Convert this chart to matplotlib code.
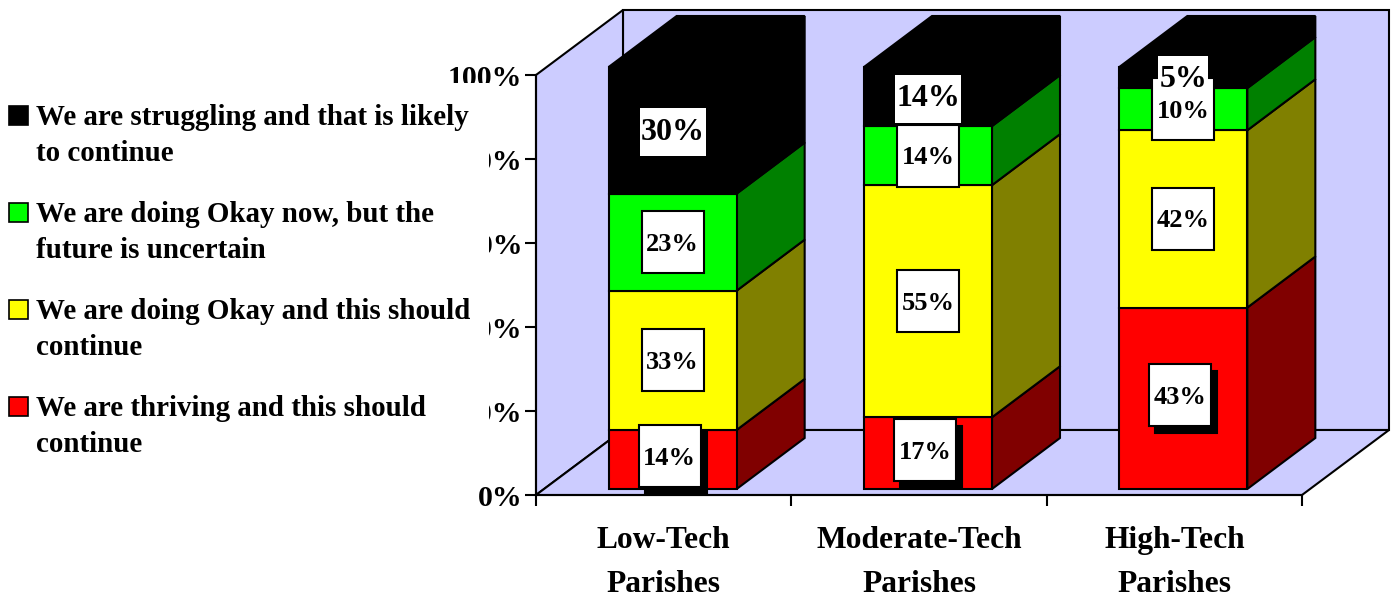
import numpy as np
import matplotlib
matplotlib.use("Agg")
import matplotlib.pyplot as plt
from matplotlib.patches import Polygon, Rectangle

plt.rcParams['font.family'] = ['Liberation Serif', 'DejaVu Serif']
plt.rcParams['font.weight'] = 'bold'

categories = ["Low-Tech\nParishes", "Moderate-Tech\nParishes", "High-Tech\nParishes"]
thriving = [14, 17, 43]
okay_continue = [33, 55, 42]
okay_uncertain = [23, 14, 10]
struggling = [30, 14, 5]
y_ticks = [0, 20, 40, 60, 80, 100]

series = [thriving, okay_continue, okay_uncertain, struggling]
front_colors = ["#FF0000", "#FFFF00", "#00FF00", "#000000"]
side_colors = ["#800000", "#808000", "#008000", "#000000"]
legend_labels = ["We are struggling and that is likely\nto continue",
                 "We are doing Okay now, but the\nfuture is uncertain",
                 "We are doing Okay and this should\ncontinue",
                 "We are thriving and this should\ncontinue"]
legend_colors = ["#000000", "#00FF00", "#FFFF00", "#FF0000"]

W, H = 1395, 596
fig = plt.figure(figsize=(W / 100, H / 100), dpi=100)
ax = fig.add_axes([536 / W, (H - 495) / H, 766 / W, 420 / H])
ax.set_xlim(0, 3)
ax.set_ylim(0, 100)
ax.patch.set_visible(False)

# one pixel in data units
px = 3 / 766
py = 100 / 420
LW = 1.5

# walls and floor of the box
wall_dx, wall_dy = 87 * px, 65 * py
wall = dict(facecolor="#CCCCFF", edgecolor="black", lw=LW, clip_on=False, zorder=1, joinstyle="miter")
ax.add_patch(Polygon([(wall_dx, wall_dy), (3 + wall_dx, wall_dy), (3 + wall_dx, 100 + wall_dy), (wall_dx, 100 + wall_dy)], **wall))
ax.add_patch(Polygon([(0, 0), (wall_dx, wall_dy), (wall_dx, 100 + wall_dy), (0, 100)], **wall))
ax.add_patch(Polygon([(0, 0), (3, 0), (3 + wall_dx, wall_dy), (wall_dx, wall_dy)], **wall))

# stacked bars, slightly taller than the axis scale as in the original
bar_w = 128 * px
bar_dx, bar_dy = 68 * px, 51 * py
off_x, off_y = 9 * px, 6 * py
scale = 422 / 420
bar = dict(edgecolor="black", lw=LW, clip_on=False, zorder=3, joinstyle="miter")
for i in range(len(categories)):
    x0 = i + 0.5 + off_x - bar_w / 2
    x1 = x0 + bar_w
    base = off_y
    for s, vals in enumerate(series):
        top = base + vals[i] * scale
        ax.add_patch(Polygon([(x1, base), (x1 + bar_dx, base + bar_dy), (x1 + bar_dx, top + bar_dy), (x1, top)],
                             facecolor=side_colors[s], **bar))
        ax.add_patch(Rectangle((x0, base), bar_w, top - base, facecolor=front_colors[s], **bar))
        base = top
    ax.add_patch(Polygon([(x0, base), (x0 + bar_dx, base + bar_dy), (x1 + bar_dx, base + bar_dy), (x1, base)],
                         facecolor="#000000", **bar))

# value labels
box_w, box_h = 62 * px, 62 * py
shadowed = [(0, 0), (1, 0), (2, 0)]
renderer = fig.canvas.get_renderer()
for i in range(len(categories)):
    cx = i + 0.5 + off_x
    base = off_y
    for s, vals in enumerate(series):
        cy = base + vals[i] * scale / 2
        base += vals[i] * scale
        if s == 3:
            # top labels have a plain white box fitted to the text width
            t = ax.text(cx, cy - 2 * py, f"{vals[i]}%", ha="center", va="center", fontsize=23, zorder=6, clip_on=False)
            tw = t.get_window_extent(renderer).width
            ax.add_patch(Rectangle((cx - (tw + 2) * px / 2, cy - 26 * py), (tw + 2) * px, 48 * py,
                                   facecolor="white", edgecolor="none", zorder=5, clip_on=False))
            continue
        bx, by = cx, cy
        if (i, s) in shadowed:
            bx, by = cx - 3 * px, cy + 3 * py
            ax.add_patch(Rectangle((bx + 6 * px - box_w / 2, by - 7 * py - box_h / 2), box_w, box_h,
                                   facecolor="black", edgecolor="black", lw=LW, zorder=4, clip_on=False))
        ax.add_patch(Rectangle((bx - box_w / 2, by - box_h / 2), box_w, box_h, facecolor="white",
                               edgecolor="black", lw=LW, zorder=5, clip_on=False))
        ax.text(bx, by - 2 * py, f"{vals[i]}%", ha="center", va="center", fontsize=19, zorder=6, clip_on=False)

# axes lines, ticks
for name in ["top", "right"]:
    ax.spines[name].set_visible(False)
for name in ["left", "bottom"]:
    ax.spines[name].set_linewidth(LW)
    ax.spines[name].set_zorder(2)
ax.set_yticks(y_ticks)
ax.set_yticklabels([f"{t}%" for t in y_ticks], fontsize=21.5)
ax.tick_params(axis="y", length=8, width=LW, pad=2)
ax.set_xticks(range(len(categories) + 1))
ax.set_xticklabels([""] * (len(categories) + 1))
ax.tick_params(axis="x", which="major", length=8, width=LW)
ax.set_xticks([i + 0.5 for i in range(len(categories))], minor=True)
ax.set_xticklabels(categories, minor=True, fontsize=22.7, linespacing=1.68)
ax.tick_params(axis="x", which="minor", length=0, pad=22)

# legend sits on a white panel that hides part of the tick labels
fig.add_artist(Rectangle((0, (H - 462) / H), 489 / W, 379 / H, transform=fig.transFigure,
                         facecolor="white", edgecolor="none", zorder=1))
for k, (label, color) in enumerate(zip(legend_labels, legend_colors)):
    y_px = 115 + 97 * k
    fig.add_artist(Rectangle((9 / W, (H - y_px - 10) / H), 19 / W, 19 / H, transform=fig.transFigure,
                             facecolor=color, edgecolor="black", lw=1.2, zorder=2))
    fig.text(36 / W, (H - y_px + 11) / H, label, fontsize=20.9, ha="left", va="top", linespacing=1.45, zorder=2)

fig.savefig("out.png", dpi=100)
